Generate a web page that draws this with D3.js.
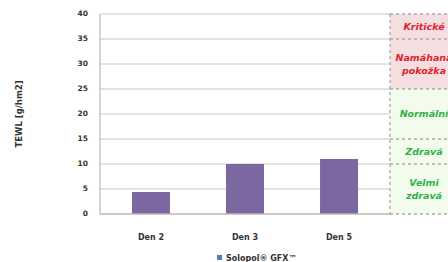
<!DOCTYPE html>
<html>
<head>
<meta charset="utf-8">
<script src="https://cdn.jsdelivr.net/npm/d3@7"></script>
<style>
  body { margin: 0; background: #fff; }
  svg { font-family: "DejaVu Sans", "Open Sans", sans-serif; }
</style>
</head>
<body>
<svg id="chart" width="448" height="262"></svg>
<script>
// Data
var days = ['Den 2', 'Den 3', 'Den 5'];
var tewl = [4.4, 10, 11];
var yTicks = [0, 5, 10, 15, 20, 25, 30, 35, 40];
var zoneFrom = [35, 25, 15, 10, 0];
var zoneTo = [40, 35, 25, 15, 10];
var zoneLabels = [['Kritické'], ['Namáhaná', 'pokožka'], ['Normální'], ['Zdravá'], ['Velmi', 'zdravá']];
var zoneKind = ['bad', 'bad', 'good', 'good', 'good'];
var seriesName = 'Solopol® GFX™';

var svg = d3.select('#chart');
var plotL = 100, plotR = 390, plotT = 14, plotB = 214;

var yScale = d3.scaleLinear().domain([0, 40]).range([plotB, plotT]);
var xScale = d3.scaleBand().domain(days).range([plotL, plotR]).paddingInner(0.596).paddingOuter(0.34);

// zones on the right
var zx = plotR, zw = 70;
var zones = svg.append('g');
zoneFrom.forEach(function(f, i){
  zones.append('rect')
    .attr('x', zx).attr('y', yScale(zoneTo[i]))
    .attr('width', zw).attr('height', yScale(f) - yScale(zoneTo[i]))
    .style('fill', zoneKind[i] == 'bad' ? '#f4dedf' : '#f3fcec');
});

// gridlines
svg.append('g').selectAll('line').data(yTicks.slice(1)).enter().append('line')
  .attr('x1', plotL).attr('x2', plotR)
  .attr('y1', function(d){ return yScale(d) }).attr('y2', function(d){ return yScale(d) })
  .style('stroke', '#c8c8c8').style('stroke-width', 1.2);

// dashed zone borders
var dash = svg.append('g').style('stroke', '#aaaaaa').style('stroke-width', 1.3).style('stroke-dasharray', '3,3');
dash.append('line').attr('x1', zx).attr('x2', zx).attr('y1', yScale(40)).attr('y2', yScale(0));
zoneTo.concat([0]).forEach(function(v){
  dash.append('line').attr('x1', zx).attr('x2', zx + zw).attr('y1', yScale(v)).attr('y2', yScale(v));
});

// zone labels
zoneLabels.forEach(function(lines, i){
  var cy = (yScale(zoneFrom[i]) + yScale(zoneTo[i])) / 2;
  var t = svg.append('text')
    .attr('x', zx + 34).attr('y', cy - (lines.length - 1) * 6.5)
    .attr('text-anchor', 'middle').attr('dominant-baseline', 'middle')
    .style('font-size', '9.5px').style('font-style', 'italic').style('font-weight', 'bold')
    .style('fill', zoneKind[i] == 'bad' ? '#e3202f' : '#2cb24a');
  lines.forEach(function(l, j){
    t.append('tspan').attr('x', zx + 34).attr('dy', j == 0 ? 0 : 13).text(l);
  });
});

// bars
svg.append('g').selectAll('rect').data(tewl).enter().append('rect')
  .attr('x', function(d, i){ return xScale(days[i]) })
  .attr('width', xScale.bandwidth())
  .attr('y', function(d){ return yScale(d) })
  .attr('height', function(d){ return yScale(0) - yScale(d) })
  .style('fill', '#7d67a1');

// axes lines
svg.append('line').attr('x1', plotL).attr('x2', plotL).attr('y1', plotT).attr('y2', plotB)
  .style('stroke', '#b8b8b8').style('stroke-width', 1.2);
svg.append('line').attr('x1', plotL).attr('x2', plotR).attr('y1', plotB).attr('y2', plotB)
  .style('stroke', '#b8b8b8').style('stroke-width', 1.5);

// y tick labels
svg.append('g').selectAll('text').data(yTicks).enter().append('text')
  .attr('x', 88).attr('y', function(d){ return yScale(d) })
  .attr('text-anchor', 'end').attr('dominant-baseline', 'middle')
  .style('font-size', '7.5px').style('font-weight', 'bold').style('fill', '#333')
  .text(function(d){ return d });

// x labels
svg.append('g').selectAll('text').data(days).enter().append('text')
  .attr('x', function(d){ return xScale(d) + xScale.bandwidth() / 2 }).attr('y', 237)
  .attr('text-anchor', 'middle').attr('dominant-baseline', 'middle')
  .style('font-size', '8px').style('font-weight', 'bold').style('fill', '#333')
  .text(function(d){ return d });

// y title
svg.append('text').attr('transform', 'translate(19,114) rotate(-90)')
  .attr('text-anchor', 'middle').attr('dominant-baseline', 'middle')
  .style('font-size', '8.5px').style('font-weight', 'bold').style('fill', '#333')
  .text('TEWL [g/hm2]');

// legend
svg.append('rect').attr('x', 217).attr('y', 255).attr('width', 5).attr('height', 5).style('fill', '#4f7fc0');
svg.append('text').attr('x', 226).attr('y', 258)
  .attr('dominant-baseline', 'middle')
  .style('font-size', '8px').style('font-weight', 'bold').style('fill', '#333')
  .text(seriesName);
</script>
</body>
</html>
